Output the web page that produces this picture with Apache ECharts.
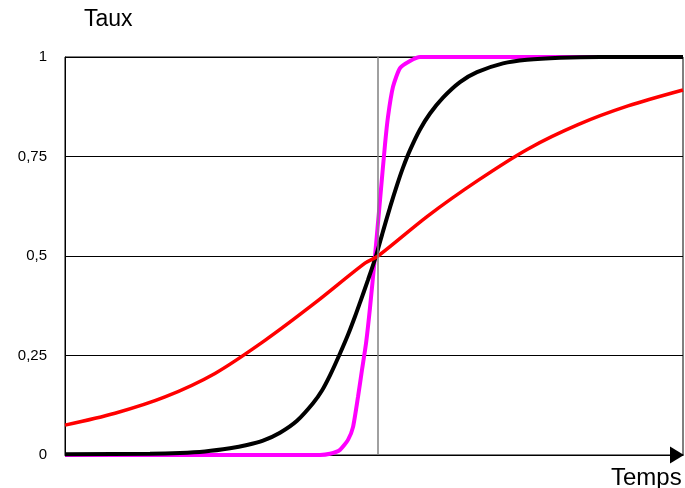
<!DOCTYPE html>
<html>
<head>
<meta charset="utf-8">
<script src="https://cdn.jsdelivr.net/npm/echarts@6/dist/echarts.min.js"></script>
<style>html,body{margin:0;padding:0;background:#fff;}#c{width:685px;height:488px;}</style>
</head>
<body>
<div id="c"></div>
<script>
// x values are in "temps" units (0..618), centre at 313
var yTicks = [0, 0.25, 0.5, 0.75, 1];
var redX = [0, 50, 100, 150, 200, 250, 300, 313, 363, 413, 463, 513, 563, 618];
var redY = [0.075, 0.105, 0.146, 0.205, 0.288, 0.382, 0.482, 0.5, 0.601, 0.69, 0.769, 0.83, 0.877, 0.917];
var blackX = [0, 85, 115, 140, 165, 182, 198, 215, 232, 248, 257, 265, 275, 283, 290, 295, 303, 311, 318, 325, 332, 338, 345, 355, 365, 378, 395, 412, 438, 462, 495, 535, 618];
var blackY = [0.002, 0.003, 0.005, 0.009, 0.017, 0.025, 0.036, 0.056, 0.086, 0.13, 0.162, 0.2, 0.255, 0.302, 0.348, 0.383, 0.44, 0.5, 0.562, 0.622, 0.678, 0.722, 0.766, 0.818, 0.858, 0.898, 0.937, 0.962, 0.984, 0.993, 0.998, 1.0, 1.0];
var magX = [0, 255, 265, 275, 283, 288, 293, 297, 301, 305, 310, 315, 320, 323, 328, 335, 345, 355, 618];
var magY = [0, 0, 0.003, 0.013, 0.038, 0.07, 0.146, 0.214, 0.28, 0.37, 0.5, 0.64, 0.78, 0.85, 0.925, 0.972, 0.99, 1.0, 1.0];
var centreX = 313;
var yLabels = {'0': '0', '0.25': '0,25', '0.5': '0,5', '0.75': '0,75', '1': '1'};

function pairs(xs, ys) { return xs.map(function (x, i) { return [x, ys[i]]; }); }

var chart = echarts.init(document.getElementById('c'));
var font = '"Liberation Sans", Arial, Helvetica, sans-serif';
chart.setOption({
  animation: false,
  grid: {left: 65, right: 2, top: 57, bottom: 33, show: true, borderColor: '#000', borderWidth: 1},
  xAxis: {
    type: 'value', min: 0, max: 618,
    axisLine: {show: true, lineStyle: {color: '#000', width: 1}, symbol: ['none', 'triangle'], symbolSize: [17, 14], symbolOffset: [0, -6]},
    axisTick: {show: false}, axisLabel: {show: false}, splitLine: {show: false}
  },
  yAxis: {
    type: 'value', min: 0, max: 1, interval: 0.25,
    axisLine: {show: true, lineStyle: {color: '#000', width: 1}},
    axisTick: {show: false},
    axisLabel: {margin: 18, color: '#000', fontSize: 15, fontFamily: font,
      formatter: function (v) { return yLabels[String(v)] !== undefined ? yLabels[String(v)] : v; }},
    splitLine: {show: true, lineStyle: {color: '#000', width: 1}}
  },
  graphic: [
    {type: 'text', left: 84, top: 8, style: {text: 'Taux', fontSize: 23, fontFamily: font, fill: '#000'}},
    {type: 'text', left: 611, top: 466, style: {text: 'Temps', fontSize: 24, fontFamily: font, fill: '#000'}}
  ],
  series: [
    {type: 'line', data: pairs(magX, magY), showSymbol: false, smooth: 0.2, lineStyle: {color: '#ff00ff', width: 4}, z: 2,
      markLine: {silent: true, symbol: 'none', label: {show: false}, lineStyle: {color: '#808080', width: 1.5, type: 'solid'}, data: [{xAxis: centreX}]}},
    {type: 'line', data: pairs(blackX, blackY), showSymbol: false, smooth: 0.3, lineStyle: {color: '#000', width: 4}, z: 3},
    {type: 'line', data: pairs(redX, redY), showSymbol: false, smooth: 0.3, lineStyle: {color: '#ff0000', width: 3.5}, z: 4}
  ]
});
</script>
</body>
</html>
